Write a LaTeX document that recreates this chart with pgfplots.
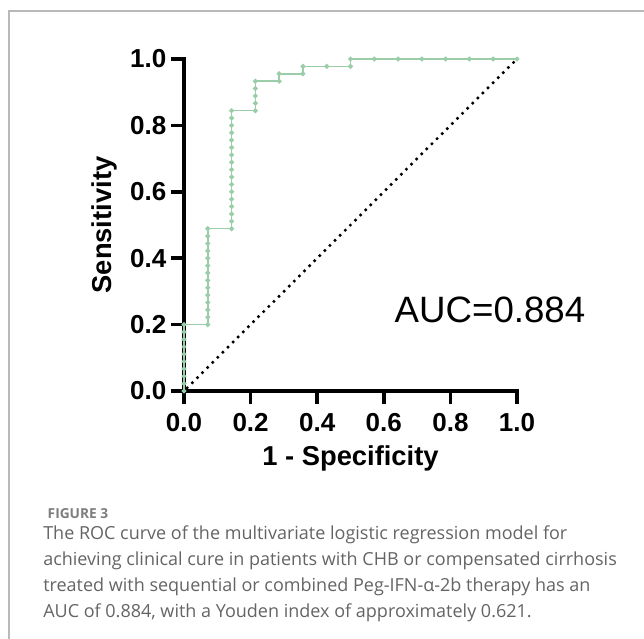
\documentclass[border=0pt]{standalone}
\usepackage{pgfplots}
\pgfplotsset{compat=1.18}
\usepackage{fontspec}
\setmainfont{Liberation Sans}
\newfontfamily\capfont{Open Sans}
\definecolor{roc}{RGB}{155,206,168}
\definecolor{capgray}{RGB}{100,100,100}
\definecolor{figgray}{RGB}{125,125,125}
\definecolor{framegray}{RGB}{185,185,185}

% ROC points: x = 1 - specificity, y = sensitivity
\pgfplotstableread{
x y
0 0
0 0.0222
0 0.0444
0 0.0667
0 0.0889
0 0.1111
0 0.1333
0 0.1556
0 0.1778
0 0.2
0.0714 0.2
0.0714 0.2222
0.0714 0.2444
0.0714 0.2667
0.0714 0.2889
0.0714 0.3111
0.0714 0.3333
0.0714 0.3556
0.0714 0.3778
0.0714 0.4
0.0714 0.4222
0.0714 0.4444
0.0714 0.4667
0.0714 0.4889
0.1429 0.4889
0.1429 0.5111
0.1429 0.5333
0.1429 0.5556
0.1429 0.5778
0.1429 0.6
0.1429 0.6222
0.1429 0.6444
0.1429 0.6667
0.1429 0.6889
0.1429 0.7111
0.1429 0.7333
0.1429 0.7556
0.1429 0.7778
0.1429 0.8
0.1429 0.8222
0.1429 0.8444
0.2143 0.8444
0.2143 0.8667
0.2143 0.8889
0.2143 0.9111
0.2143 0.9333
0.2857 0.9333
0.2857 0.9556
0.3571 0.9556
0.3571 0.9778
0.4286 0.9778
0.5 0.9778
0.5 1
0.5714 1
0.6429 1
0.7143 1
0.7857 1
0.8571 1
0.9286 1
1 1
}\roctable

\begin{document}
\begin{tikzpicture}
\path[use as bounding box] (0,0) rectangle (483pt,-479.25pt);
\draw[framegray, line width=1.1pt] (6.75pt,-479.25pt) -- (6.75pt,-8.25pt) -- (483pt,-8.25pt);
\begin{axis}[
  at={(138pt,-293.25pt)}, anchor=south west,
  scale only axis, width=249.75pt, height=249pt,
  xmin=0, xmax=1, ymin=0, ymax=1,
  axis x line=bottom, axis y line=left,
  axis line style={-, black, line width=2.8pt, line cap=rect},
  xtick={0,0.2,0.4,0.6,0.8,1}, ytick={0,0.2,0.4,0.6,0.8,1},
  tick align=outside, major tick length=9.75pt,
  every tick/.style={black, line width=2.8pt},
  ticklabel style={font=\bfseries\fontsize{19.5}{22}\selectfont},
  xticklabel style={yshift=-3.5pt},
  /pgf/number format/.cd, fixed, fixed zerofill, precision=1, assume math mode=true,
  /pgfplots/.cd,
  xlabel={1 - Specificity},
  ylabel={Sensitivity},
  xlabel style={font=\bfseries\fontsize{20.5}{24}\selectfont, at={(axis description cs:0.5,-0.202)}, anchor=center},
  ylabel style={font=\bfseries\fontsize{20.5}{24}\selectfont, at={(axis description cs:-0.24,0.5)}, anchor=center},
  clip=false,
]
\addplot[black, line width=2.6pt, line cap=round, dash pattern=on 0pt off 5.4pt, dash phase=2pt] coordinates {(0,0) (1,1)};
\addplot[roc, line width=1.2pt, mark=*, mark size=1.2pt, mark options={fill=roc, draw=roc}] table[x=x, y=y] {\roctable};
\end{axis}
\node[font=\fontsize{27.5}{32}\selectfont] at (367.5pt,-232.5pt) {AUC=0.884};
\node[anchor=base west, text=figgray, font=\capfont\bfseries\fontsize{10.3}{12}\selectfont] at (32.25pt,-388.9pt) {FIGURE 3};
\begin{scope}[every node/.style={anchor=base west, inner sep=0pt, text=capgray, font=\capfont\fontsize{13.5}{16}\selectfont}]
\node at (32.25pt,-404.25pt) {The ROC curve of the multivariate logistic regression model for};
\node at (32.25pt,-423.75pt) {achieving clinical cure in patients with CHB or compensated cirrhosis};
\node at (32.25pt,-443.25pt) {treated with sequential or combined Peg-IFN-α-2b therapy has an};
\node at (32.25pt,-462.75pt) {AUC of 0.884, with a Youden index of approximately 0.621.};
\end{scope}
\end{tikzpicture}
\end{document}
